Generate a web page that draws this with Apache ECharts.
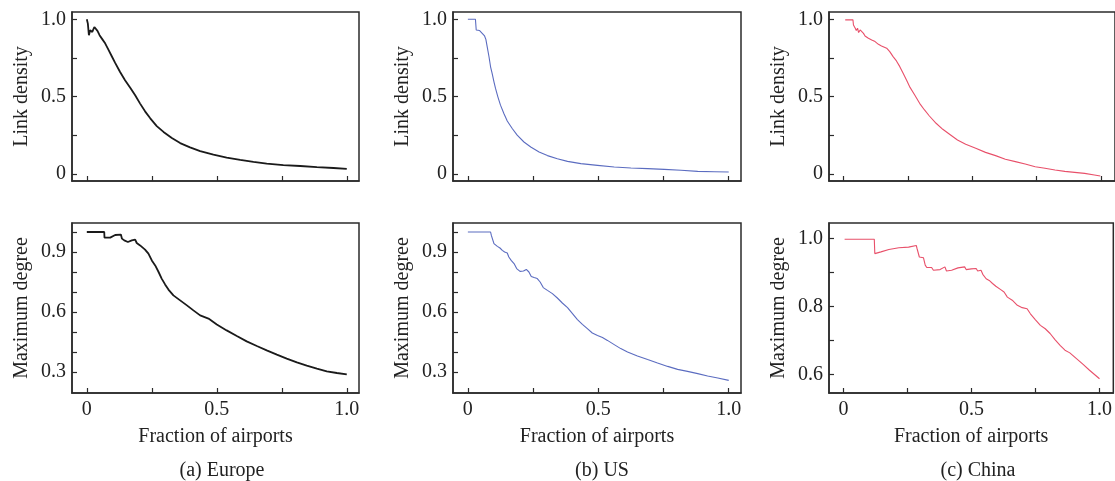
<!DOCTYPE html>
<html>
<head>
<meta charset="utf-8">
<script src="https://cdn.jsdelivr.net/npm/echarts@6/dist/echarts.min.js"></script>
<style>html,body{margin:0;padding:0;background:#fff}#c{width:1115px;height:481px}</style>
</head>
<body>
<div id="c"></div>
<script>
// ---- data: [fraction of airports, value] ----
var europeDensity = [[0,1.0],[0.004,0.972],[0.008,0.897],[0.013,0.929],[0.021,0.918],[0.029,0.950],[0.036,0.955],[0.041,0.925],[0.049,0.897],[0.058,0.875],[0.071,0.843],[0.083,0.804],[0.096,0.761],[0.109,0.718],[0.128,0.659],[0.147,0.606],[0.167,0.558],[0.186,0.509],[0.205,0.455],[0.224,0.405],[0.244,0.360],[0.269,0.310],[0.295,0.272],[0.327,0.233],[0.359,0.200],[0.397,0.172],[0.436,0.148],[0.487,0.125],[0.538,0.106],[0.590,0.091],[0.641,0.078],[0.692,0.067],[0.756,0.058],[0.821,0.052],[0.885,0.045],[0.949,0.039],[1.0,0.034]];
var europeDegree = [[0,1.0],[0.067,1.0],[0.068,0.972],[0.09,0.972],[0.092,0.98],[0.109,0.985],[0.131,0.987],[0.135,0.967],[0.144,0.958],[0.150,0.962],[0.158,0.95],[0.173,0.958],[0.186,0.962],[0.192,0.945],[0.205,0.933],[0.224,0.912],[0.237,0.892],[0.25,0.858],[0.263,0.833],[0.276,0.8],[0.288,0.767],[0.301,0.738],[0.314,0.712],[0.333,0.683],[0.359,0.658],[0.385,0.633],[0.41,0.608],[0.436,0.583],[0.468,0.567],[0.5,0.538],[0.538,0.508],[0.577,0.48],[0.615,0.453],[0.654,0.43],[0.692,0.408],[0.731,0.387],[0.769,0.367],[0.808,0.348],[0.846,0.332],[0.885,0.317],[0.923,0.303],[0.962,0.295],[1.0,0.288]];
var usDensity = [[0,1.0],[0.029,1.0],[0.032,0.931],[0.045,0.927],[0.055,0.909],[0.064,0.892],[0.069,0.870],[0.074,0.823],[0.081,0.758],[0.087,0.693],[0.093,0.650],[0.1,0.596],[0.106,0.553],[0.115,0.499],[0.125,0.445],[0.138,0.391],[0.151,0.343],[0.17,0.294],[0.189,0.251],[0.215,0.207],[0.241,0.175],[0.273,0.143],[0.305,0.119],[0.343,0.099],[0.382,0.082],[0.433,0.067],[0.497,0.056],[0.561,0.045],[0.625,0.039],[0.689,0.035],[0.753,0.030],[0.817,0.024],[0.881,0.017],[0.945,0.015],[1.0,0.013]];
var usDegree = [[0,1.0],[0.087,1.0],[0.09,0.983],[0.096,0.975],[0.1,0.942],[0.106,0.945],[0.113,0.928],[0.123,0.92],[0.132,0.908],[0.141,0.9],[0.151,0.895],[0.157,0.875],[0.166,0.858],[0.177,0.842],[0.187,0.817],[0.2,0.803],[0.213,0.805],[0.224,0.813],[0.234,0.8],[0.243,0.778],[0.254,0.772],[0.266,0.767],[0.277,0.75],[0.289,0.722],[0.305,0.708],[0.324,0.692],[0.343,0.67],[0.362,0.645],[0.382,0.622],[0.401,0.592],[0.42,0.562],[0.439,0.538],[0.458,0.517],[0.477,0.495],[0.497,0.483],[0.516,0.472],[0.535,0.458],[0.561,0.437],[0.586,0.417],[0.612,0.4],[0.65,0.38],[0.689,0.362],[0.727,0.345],[0.766,0.328],[0.804,0.313],[0.842,0.303],[0.881,0.292],[0.919,0.28],[0.958,0.27],[1.0,0.258]];
var chinaDensity = [[0.006,0.996],[0.036,0.996],[0.038,0.963],[0.045,0.942],[0.049,0.927],[0.054,0.942],[0.058,0.914],[0.064,0.931],[0.071,0.935],[0.077,0.909],[0.083,0.892],[0.096,0.877],[0.109,0.866],[0.122,0.856],[0.135,0.838],[0.147,0.828],[0.167,0.813],[0.179,0.791],[0.192,0.759],[0.205,0.731],[0.218,0.694],[0.231,0.651],[0.244,0.608],[0.256,0.565],[0.276,0.511],[0.295,0.457],[0.314,0.414],[0.333,0.375],[0.359,0.328],[0.385,0.289],[0.41,0.259],[0.442,0.22],[0.474,0.192],[0.513,0.166],[0.551,0.14],[0.59,0.119],[0.628,0.095],[0.667,0.08],[0.705,0.065],[0.744,0.047],[0.782,0.037],[0.821,0.026],[0.859,0.017],[0.897,0.011],[0.936,0.004],[0.974,-0.006],[0.997,-0.013]];
var chinaDegree = [[0.004,0.998],[0.12,0.998],[0.122,0.956],[0.146,0.961],[0.177,0.968],[0.216,0.973],[0.254,0.975],[0.284,0.980],[0.287,0.971],[0.296,0.946],[0.312,0.944],[0.319,0.922],[0.325,0.915],[0.344,0.915],[0.351,0.907],[0.377,0.909],[0.396,0.917],[0.402,0.905],[0.422,0.907],[0.447,0.914],[0.473,0.917],[0.479,0.909],[0.499,0.911],[0.518,0.912],[0.524,0.905],[0.537,0.907],[0.544,0.895],[0.557,0.882],[0.569,0.877],[0.582,0.868],[0.595,0.86],[0.614,0.85],[0.627,0.843],[0.64,0.828],[0.659,0.819],[0.679,0.804],[0.698,0.797],[0.717,0.794],[0.73,0.779],[0.749,0.762],[0.769,0.745],[0.788,0.735],[0.807,0.721],[0.826,0.703],[0.846,0.686],[0.865,0.672],[0.884,0.664],[0.91,0.647],[0.936,0.630],[0.961,0.613],[1.0,0.588]];

var xTicks = [0, 0.25, 0.5, 0.75, 1];
var xLabels = [0, 0.5, 1];
var densityTicks = [0, 0.25, 0.5, 0.75, 1];
var densityLabels = [0, 0.5, 1];
var degreeTicks = [0.3, 0.4, 0.5, 0.6, 0.7, 0.8, 0.9, 1.0];
var degreeLabels = [0.3, 0.6, 0.9];
var chinaDegreeTicks = [0.6, 0.7, 0.8, 0.9, 1.0];
var chinaDegreeLabels = [0.6, 0.8, 1.0];
var captions = ['(a) Europe', '(b) US', '(c) China'];
var densityName = 'Link density';
var degreeName = 'Maximum degree';
var xName = 'Fraction of airports';

var FONT = 'Liberation Serif';
var FS = 20;
var AX = '#2b2b2b';
var colors = ['#1a1a1a', '#5b6cc0', '#e8506a'];
var widths = [1.8, 1.1, 1.1];

var cols = [{left: 72, width: 287}, {left: 453, width: 288}, {left: 829, width: 289}];
var rows = [{top: 12, height: 169}, {top: 223, height: 170}];

function fmt(v) { return v === 0 ? '0' : v.toFixed(1); }

var grids = [], xAxes = [], yAxes = [], series = [], titles = [];
var panels = [
  {col: 0, row: 0, data: europeDensity, yMin: -0.045, yMax: 1.047, yt: densityTicks, yl: densityLabels, name: densityName},
  {col: 0, row: 1, data: europeDegree, yMin: 0.195, yMax: 1.045, yt: degreeTicks, yl: degreeLabels, name: degreeName},
  {col: 1, row: 0, data: usDensity, yMin: -0.045, yMax: 1.047, yt: densityTicks, yl: densityLabels, name: densityName},
  {col: 1, row: 1, data: usDegree, yMin: 0.195, yMax: 1.045, yt: degreeTicks, yl: degreeLabels, name: degreeName},
  {col: 2, row: 0, data: chinaDensity, yMin: -0.045, yMax: 1.047, yt: densityTicks, yl: densityLabels, name: densityName},
  {col: 2, row: 1, data: chinaDegree, yMin: 0.546, yMax: 1.046, yt: chinaDegreeTicks, yl: chinaDegreeLabels, name: degreeName}
];

panels.forEach(function (p, i) {
  var c = cols[p.col], r = rows[p.row];
  var xMax = p.col === 2 ? 1.054 : 1.047;
  grids.push({left: c.left, top: r.top, width: c.width, height: r.height, show: true,
    borderColor: AX, borderWidth: 1.5, backgroundColor: 'transparent', containLabel: false});
  xAxes.push({type: 'value', gridIndex: i, min: -0.057, max: xMax,
    axisLine: {show: true, onZero: false, lineStyle: {color: AX, width: 1.5}},
    axisTick: {show: true, inside: true, length: 5, customValues: xTicks, lineStyle: {color: AX, width: 1.2}},
    axisLabel: {show: p.row === 1, customValues: xLabels, formatter: fmt, margin: 7,
      color: '#222', fontFamily: FONT, fontSize: FS},
    splitLine: {show: false},
    name: p.row === 1 ? xName : '', nameLocation: 'middle', nameGap: 34,
    nameTextStyle: {color: '#222', fontFamily: FONT, fontSize: FS}
  });
  yAxes.push({type: 'value', gridIndex: i, min: p.yMin, max: p.yMax,
    axisLine: {show: true, onZero: false, lineStyle: {color: AX, width: 1.5}},
    axisTick: {show: true, inside: true, length: 5, customValues: p.yt, lineStyle: {color: AX, width: 1.2}},
    axisLabel: {show: true, customValues: p.yl, formatter: fmt, margin: 6,
      color: '#222', fontFamily: FONT, fontSize: FS},
    splitLine: {show: false},
    name: p.name, nameLocation: 'middle', nameGap: 40,
    nameTextStyle: {color: '#222', fontFamily: FONT, fontSize: FS}
  });
  series.push({type: 'line', xAxisIndex: i, yAxisIndex: i, data: p.data, showSymbol: false,
    symbol: 'none', smooth: false, clip: false,
    lineStyle: {color: colors[p.col], width: widths[p.col]}});
});

var capX = [217, 597, 973];
captions.forEach(function (t, k) {
  titles.push({text: t, left: capX[k], top: 456, textAlign: 'center',
    textStyle: {color: '#222', fontFamily: FONT, fontSize: FS, fontWeight: 'normal'}});
});

var chart = echarts.init(document.getElementById('c'), null, {renderer: 'canvas'});
chart.setOption({
  animation: false,
  backgroundColor: '#fff',
  title: titles,
  grid: grids,
  xAxis: xAxes,
  yAxis: yAxes,
  series: series
});
</script>
</body>
</html>
